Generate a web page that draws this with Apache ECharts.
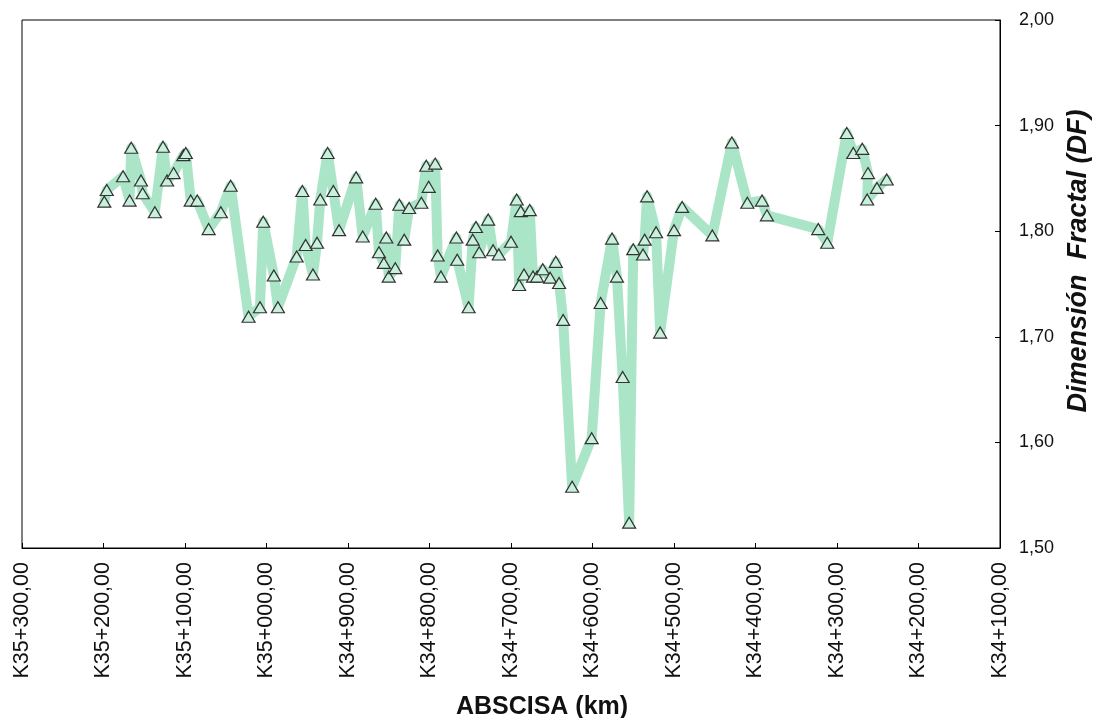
<!DOCTYPE html>
<html>
<head>
<meta charset="utf-8">
<script src="https://cdn.jsdelivr.net/npm/echarts@6/dist/echarts.min.js"></script>
<style>html,body{margin:0;padding:0;background:#fff}#c{width:1098px;height:718px}</style>
</head>
<body>
<div id="c"></div>
<script>
// Abscissa (chainage, metres) and fractal dimension
const abscisa = [35199,35196,35176,35168,35166,35154,35152,35137,35127,35122,35114,35102,35099,35093,35085,35071,35056,35044,35022,35008,35004,34991,34986,34963,34956,34952,34943,34938,34934,34925,34918,34911,34890,34882,34866,34862,34856,34853,34850,34842,34837,34831,34825,34810,34804,34801,34793,34790,34786,34767,34766,34752,34747,34743,34739,34728,34722,34715,34700,34693,34690,34688,34684,34677,34673,34668,34661,34652,34645,34641,34636,34625,34601,34590,34576,34570,34563,34555,34550,34538,34536,34533,34522,34517,34500,34490,34453,34429,34410,34392,34386,34323,34312,34288,34280,34269,34262,34263,34251,34239];
const df = [1.828,1.839,1.852,1.829,1.879,1.848,1.836,1.818,1.880,1.848,1.855,1.872,1.874,1.829,1.829,1.802,1.818,1.843,1.719,1.728,1.809,1.758,1.728,1.776,1.838,1.787,1.759,1.789,1.830,1.874,1.838,1.801,1.851,1.795,1.826,1.780,1.770,1.794,1.757,1.765,1.825,1.792,1.822,1.827,1.862,1.842,1.864,1.777,1.757,1.794,1.773,1.728,1.792,1.804,1.780,1.811,1.782,1.778,1.790,1.830,1.749,1.819,1.759,1.820,1.757,1.757,1.764,1.756,1.771,1.751,1.716,1.558,1.604,1.732,1.793,1.757,1.662,1.524,1.783,1.778,1.792,1.833,1.799,1.704,1.801,1.823,1.796,1.884,1.827,1.829,1.815,1.802,1.789,1.893,1.874,1.878,1.855,1.830,1.841,1.849];
const xTitle = 'ABSCISA (km)';
const yTitle = 'Dimensión  Fractal (DF)';

const chart = echarts.init(document.getElementById('c'), null, {renderer:'canvas'});
const font = 'Liberation Sans, Arial, sans-serif';
function fmtK(v){
  const km = Math.floor(v/1000), m = Math.round(v - km*1000);
  return 'K' + km + '+' + String(m).padStart(3,'0') + ',00';
}
chart.setOption({
  animation:false,
  grid:{left:22,right:98,top:20,bottom:170,show:true,borderColor:'#000',borderWidth:1,containLabel:false,outerBoundsMode:'none'},
  xAxis:{
    type:'value', inverse:true, min:34100, max:35300, interval:100,
    name:xTitle, nameLocation:'middle', nameGap:147,
    nameTextStyle:{fontFamily:font,fontSize:25,fontWeight:'bold',color:'#111',padding:[0,0,0,62]},
    axisLine:{show:true,lineStyle:{color:'#000',width:1}},
    axisTick:{show:true,inside:true,length:5,lineStyle:{color:'#000'}},
    axisLabel:{rotate:90,fontFamily:font,fontSize:21.5,color:'#111',margin:14,formatter:fmtK},
    splitLine:{show:false}
  },
  yAxis:{
    type:'value', position:'right', min:1.5, max:2.0, interval:0.1,
    name:yTitle, nameLocation:'middle', nameGap:56, nameRotate:90,
    nameTextStyle:{fontFamily:font,fontSize:27,fontStyle:'italic',fontWeight:'bold',color:'#111',padding:[0,0,0,46]},
    axisLine:{show:true,lineStyle:{color:'#000',width:1}},
    axisTick:{show:true,inside:true,length:5,lineStyle:{color:'#000'}},
    axisLabel:{fontFamily:font,fontSize:18,color:'#111',margin:19,formatter:v=>v.toFixed(2).replace('.',',')},
    splitLine:{show:false}
  },
  series:[{
    type:'line',
    data:abscisa.map((a,i)=>[a,df[i]]),
    lineStyle:{color:'#abe5c7',width:10,join:'round',cap:'round'},
    symbol:'triangle', symbolSize:[13,11],
    itemStyle:{color:'#c9f0dc',borderColor:'#333',borderWidth:1.2},
    z:2
  }]
});
</script>
</body>
</html>
